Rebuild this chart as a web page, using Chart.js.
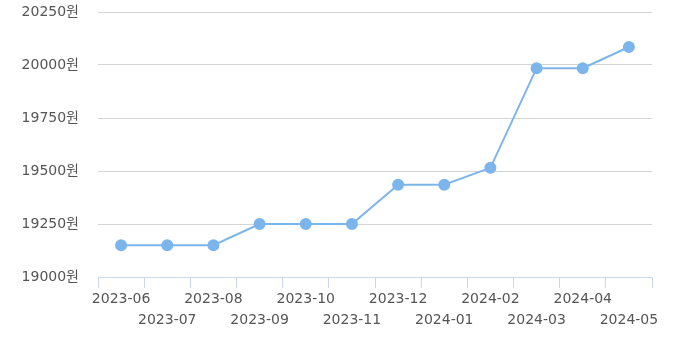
<!DOCTYPE html>
<html>
<head>
    <script src="https://cdn.jsdelivr.net/npm/chart.js"></script>
    <style>
        body { margin: 0; background: #fff; }
        #wrap { width: 678px; height: 346px; }
    </style>
</head>
<body>
    <div id="wrap"><canvas id="priceChart"></canvas></div>
    <script>
        // months and prices
        const months = ['2023-06', '2023-07', '2023-08', '2023-09', '2023-10', '2023-11',
                        '2023-12', '2024-01', '2024-02', '2024-03', '2024-04', '2024-05'];
        const prices = [19150, 19150, 19150, 19250, 19250, 19250,
                        19435, 19435, 19515, 19985, 19985, 20085];
        const yMin = 19000;
        const yMax = 20250;
        const yStep = 250;

        const font = "'DejaVu Sans', 'Noto Sans CJK KR', sans-serif";

        const ctx = document.getElementById('priceChart').getContext('2d');
        new Chart(ctx, {
            type: 'line',
            data: {
                labels: months,
                datasets: [{
                    data: prices,
                    borderColor: '#7cb5ec',
                    backgroundColor: '#7cb5ec',
                    borderWidth: 2,
                    pointRadius: 5,
                    pointHoverRadius: 5,
                    tension: 0
                }]
            },
            options: {
                responsive: true,
                maintainAspectRatio: false,
                animation: false,
                layout: { padding: { top: 0, right: 26, left: 0, bottom: 0 } },
                plugins: {
                    legend: { display: false },
                    tooltip: { enabled: false }
                },
                scales: {
                    x: {
                        offset: true,
                        grid: {
                            offset: true,
                            drawOnChartArea: false,
                            tickLength: 11,
                            color: '#ccd6eb'
                        },
                        border: { color: '#ccd6eb' },
                        ticks: {
                            autoSkip: false,
                            maxRotation: 0,
                            padding: 1,
                            color: '#555',
                            font: { family: font, size: 14, lineHeight: 1.5 },
                            callback: function(val, i) {
                                const s = this.getLabelForValue(val);
                                return i % 2 === 0 ? s : ['', s];
                            }
                        },
                        afterFit: function(scale) { scale.height = 69; }
                    },
                    y: {
                        min: yMin,
                        max: yMax,
                        grid: { color: '#d4d4d4', drawTicks: false },
                        border: { display: false },
                        ticks: {
                            stepSize: yStep,
                            padding: 19,
                            color: '#555',
                            font: { family: font, size: 14 },
                            callback: v => v + '원'
                        },
                        afterFit: function(scale) {
                            scale.width = 98;
                            scale.paddingTop = 12;
                            scale.paddingBottom = 0;
                        }
                    }
                }
            }
        });
    </script>
</body>
</html>
